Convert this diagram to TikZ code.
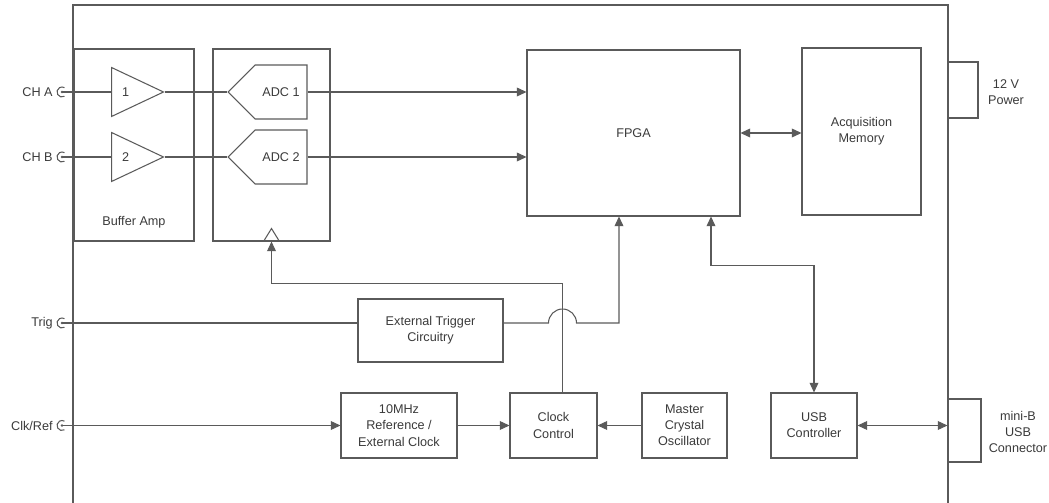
\documentclass[tikz,border=0pt]{standalone}
\usepackage{fontspec}
\setmainfont{Liberation Sans}
\usepackage{xcolor}
\definecolor{LineGray}{HTML}{5A5A5A}
\definecolor{TextGray}{HTML}{3A3A3A}
\usetikzlibrary{positioning, calc, shapes.geometric, shapes.symbols, arrows.meta}

\tikzset{
  wire/.style={LineGray, line width=0.6pt},
  sig/.style={wire, -{Triangle[length=5.5pt, width=5pt]}},
  bisig/.style={wire, {Triangle[length=5.5pt, width=5pt]}-{Triangle[length=5.5pt, width=5pt]}},
  lbl/.style={font=\fontsize{7.2}{9.2}\selectfont\color{TextGray}, align=center, inner sep=0pt},
  blk/.style={draw=LineGray, line width=0.6pt, rectangle, inner sep=0pt, lbl},
  amp/.style={draw=LineGray, line width=0.6pt, isosceles triangle, isosceles triangle stretches,
    minimum width=0.98cm, minimum height=1.04cm, inner sep=0pt, lbl},
  adc/.style={draw=LineGray, line width=0.6pt, signal, signal to=west, signal from=nowhere,
    minimum width=1.58cm, minimum height=1.08cm, inner sep=0pt, lbl}
}
\newcommand\jacksym[1]{%
  \fill[LineGray] (#1) circle[radius=1.4];
  \draw[wire] ([shift={(60:5)}]#1) arc[start angle=60, end angle=300, radius=5];
}

\begin{document}
\begin{tikzpicture}[x=0.02cm, y=-0.02cm]
  \useasboundingbox (0,0) rectangle (1049,503);
  %% enclosure
  \draw[wire] (73,515) -- (73,5) -- (948,5) -- (948,515);

  %% blocks
  \node[blk, minimum width=2.4cm, minimum height=3.84cm] (bufamp) at (134,145) {};
  \node[lbl] (bufamplbl) at (134,222) {Buffer Amp};
  \node[blk, minimum width=2.34cm, minimum height=3.84cm] (adcblk) at (271.5,145) {};
  \node[blk, minimum width=4.26cm, minimum height=3.32cm] (fpga) at (633.5,133) {FPGA};
  \node[blk, minimum width=2.38cm, minimum height=3.34cm] (mem) at (861.5,131.5) {Acquisition\\Memory};
  \node[blk, minimum width=0.6cm, minimum height=1.12cm] (power) at (963,90) {};
  \node[lbl] (powerlbl) at (1006,92) {12 V\\Power};
  \node[blk, minimum width=2.9cm, minimum height=1.26cm] (trig) at (430.5,330.5) {External Trigger\\Circuitry};
  \node[blk, minimum width=2.32cm, minimum height=1.3cm] (refclk) at (399,425.5) {10MHz\\Reference /\\External Clock};
  \node[blk, minimum width=1.74cm, minimum height=1.3cm] (clkctl) at (553.5,425.5) {Clock\\Control};
  \node[blk, minimum width=1.7cm, minimum height=1.3cm] (xtal) at (684.5,425.5) {Master\\Crystal\\Oscillator};
  \node[blk, minimum width=1.72cm, minimum height=1.3cm] (usb) at (814,425.5) {USB\\Controller};
  \node[blk, minimum width=0.66cm, minimum height=1.26cm] (minib) at (964.5,430.5) {};
  \node[lbl] (miniblbl) at (1018,432) {mini-B\\USB\\Connector};

  %% analog channels
  \foreach \ch/\y/\nm in {1/92/A, 2/157/B}{
    \coordinate (jack\nm) at (62,\y);
    \node[lbl, anchor=east] (jack\nm lbl) at (53,\y) {CH \nm};
    \jacksym{jack\nm}
    \node[amp, anchor=lower side] (amp\ch) at (111,\y) {\ch};
    \node[adc] (adc\ch) at (281,\y) {ADC \ch};
    \draw[wire] (jack\nm) -- (amp\ch.lower side);
    \draw[wire] (amp\ch.apex) -- (adc\ch.west);
    \draw[sig] (adc\ch.east) -- (adc\ch.east -| fpga.west);
  }

  %% clock input of the adc block
  \draw[wire] ($(adcblk.south)+(-8,0)$) -- ++(8,-13) -- ++(8,13);
  \coordinate (clkup) at ($(clkctl.north)+(9,0)$);
  \draw[sig] (clkup) |- ($(adcblk.south)+(0,42)$) -- (adcblk.south);

  %% trigger path, hopping over the clock line
  \coordinate (jackT) at (62,323);
  \node[lbl, anchor=east] (jackTlbl) at (53,323) {Trig};
  \jacksym{jackT}
  \draw[wire] (jackT) -- (jackT -| trig.west);
  \draw[sig] (jackT -| trig.east) -- ($(clkup |- jackT)+(-14,0)$)
    arc[start angle=180, end angle=360, radius=14]
    -- ($(jackT -| fpga.south)+(-14.5,0)$) -- ($(fpga.south)+(-14.5,0)$);

  %% clock chain
  \coordinate (jackC) at (62,425.5);
  \node[lbl, anchor=east] (jackClbl) at (53,425.5) {Clk/Ref};
  \jacksym{jackC}
  \draw[sig] (jackC) -- (refclk.west);
  \draw[sig] (refclk.east) -- (clkctl.west);
  \draw[sig] (xtal.west) -- (clkctl.east);

  %% memory and usb
  \draw[bisig] (fpga.east) -- (fpga.east -| mem.west);
  \draw[bisig] ($(fpga.south)+(77.5,0)$) -- ++(0,49) -| (usb.north);
  \draw[bisig] (usb.east) -- (usb.east -| minib.west);
\end{tikzpicture}
\end{document}
